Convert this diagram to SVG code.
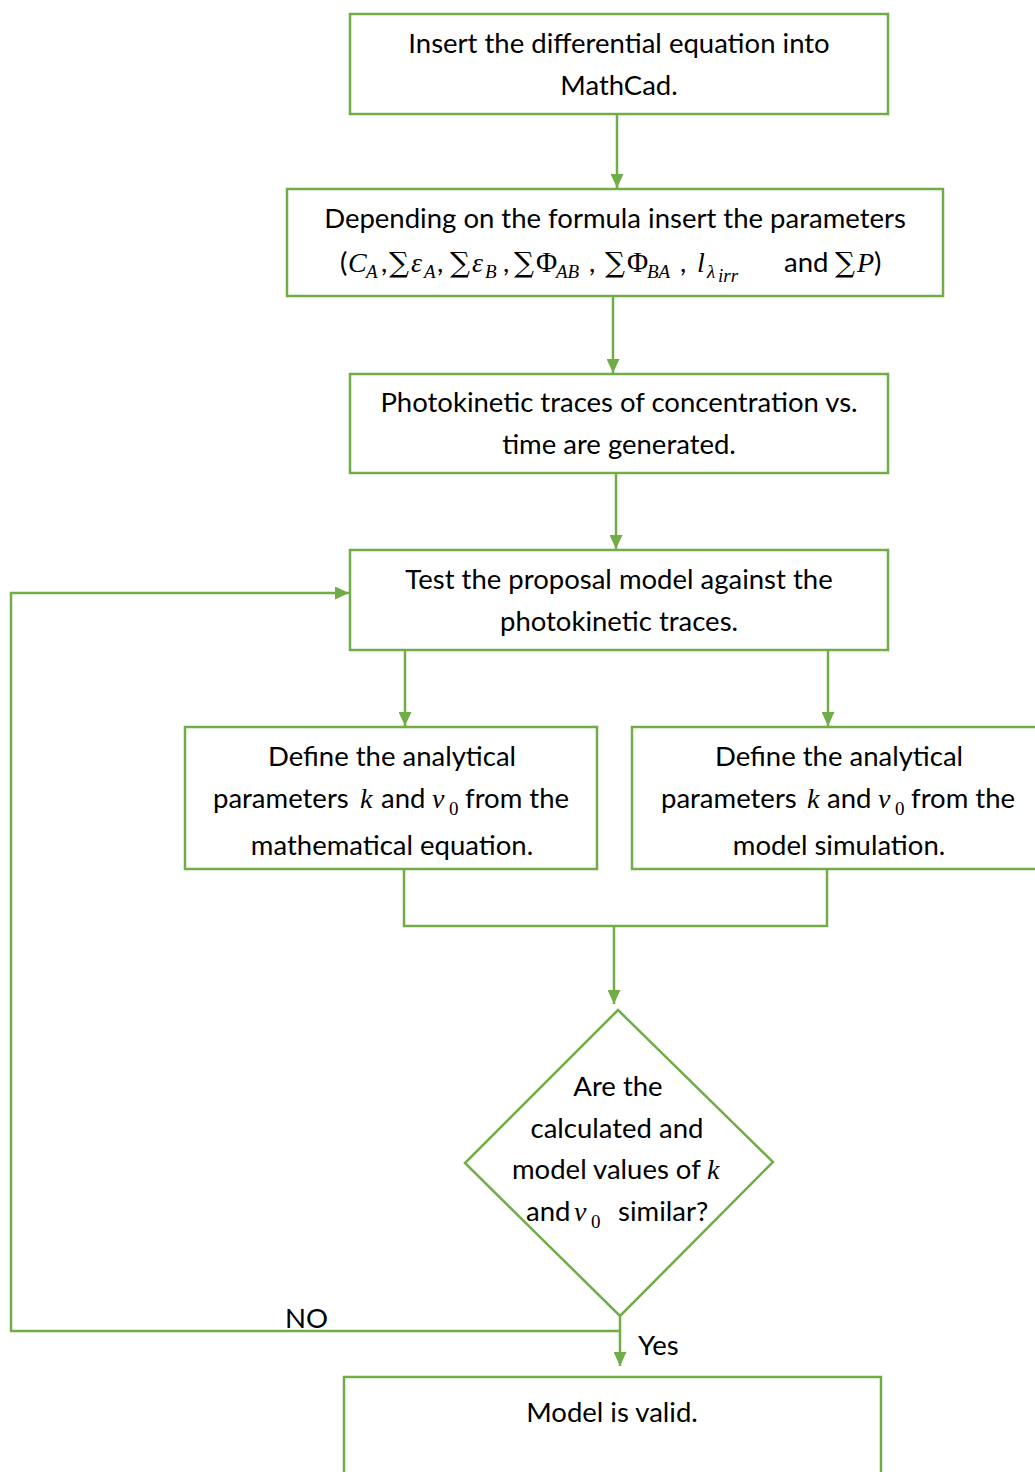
<svg xmlns="http://www.w3.org/2000/svg" width="1035" height="1472" viewBox="0 0 1035 1472">
<style>
.box{fill:#fff;stroke:#70AD47;stroke-width:2.5}
.ln{fill:none;stroke:#70AD47;stroke-width:2.5}
.t{font-family:Lato,"Open Sans","Liberation Sans",sans-serif;font-size:27.5px;fill:#000}
.c{text-anchor:middle}
.m{font-family:"Liberation Serif","DejaVu Serif",serif;font-style:italic;font-size:28px}
.mr{font-family:"Liberation Serif","DejaVu Serif",serif;font-style:normal;font-size:29px}
.sum{font-family:"DejaVu Serif","Liberation Serif",serif;font-style:normal;font-size:28px}
.s{font-family:"Liberation Serif","DejaVu Serif",serif;font-style:italic;font-size:19px}
.sr{font-family:"Liberation Serif","DejaVu Serif",serif;font-style:normal;font-size:19px}
</style>
<defs>
<marker id="ah" viewBox="0 0 10 10" refX="10" refY="5" markerWidth="14" markerHeight="13" markerUnits="userSpaceOnUse" orient="auto" preserveAspectRatio="none">
<path d="M0,0 L10,5 L0,10 z" fill="#70AD47"/>
</marker>
</defs>
<rect width="1035" height="1472" fill="#fff"/>
<g id="connectors">
<line class="ln" x1="617" y1="114" x2="617" y2="188" marker-end="url(#ah)"/>
<line class="ln" x1="613" y1="296" x2="613" y2="373" marker-end="url(#ah)"/>
<line class="ln" x1="616" y1="473" x2="616" y2="549" marker-end="url(#ah)"/>
<line class="ln" x1="405" y1="650" x2="405" y2="726" marker-end="url(#ah)"/>
<line class="ln" x1="828" y1="650" x2="828" y2="726" marker-end="url(#ah)"/>
<polyline class="ln" points="404,869 404,926 827,926 827,869"/>
<line class="ln" x1="614" y1="926" x2="614" y2="1004" marker-end="url(#ah)"/>
<line class="ln" x1="620" y1="1316" x2="620" y2="1366" marker-end="url(#ah)"/>
<polyline class="ln" points="620,1331 11,1331 11,593 349,593" marker-end="url(#ah)"/>
<text class="t" x="285" y="1328">NO</text>
<text class="t" x="638" y="1355">Yes</text>
</g>
<g id="n1">
<rect class="box" x="350" y="14" width="538" height="100"/>
<text class="t c" x="619" y="53">Insert the differential equation into</text>
<text class="t c" x="619" y="95">MathCad.</text>
</g>
<g id="n2">
<rect class="box" x="287" y="189" width="656" height="107"/>
<text class="t c" x="615" y="228">Depending on the formula insert the parameters</text>
<text class="t" y="272"><tspan x="340">(</tspan><tspan class="m" x="348">C</tspan><tspan class="s" x="366" dy="6">A</tspan><tspan x="381" dy="-6">,</tspan><tspan class="sum" x="389">∑</tspan><tspan class="m" x="411">ε</tspan><tspan class="s" x="424" dy="6">A</tspan><tspan x="437" dy="-6">,</tspan><tspan class="sum" x="450">∑</tspan><tspan class="m" x="472">ε</tspan><tspan class="s" x="485" dy="6">B</tspan><tspan x="503" dy="-6">,</tspan><tspan class="sum" x="514">∑</tspan><tspan class="mr" x="536">Φ</tspan><tspan class="s" x="556" dy="6">AB</tspan><tspan x="589" dy="-6">,</tspan><tspan class="sum" x="605">∑</tspan><tspan class="mr" x="627">Φ</tspan><tspan class="s" x="647" dy="6">BA</tspan><tspan x="680" dy="-6">,</tspan><tspan class="m" x="697">l</tspan><tspan class="s" x="707" dy="6">λ</tspan><tspan class="s" x="718" dy="4" font-size="16">irr</tspan><tspan x="784" dy="-10">and</tspan><tspan class="sum" x="835">∑</tspan><tspan class="m" x="857">P</tspan><tspan x="874">)</tspan></text>
</g>
<g id="n3">
<rect class="box" x="350" y="374" width="538" height="99"/>
<text class="t c" x="619" y="412">Photokinetic traces of concentration vs.</text>
<text class="t c" x="619" y="454">time are generated.</text>
</g>
<g id="n4">
<rect class="box" x="350" y="550" width="538" height="100"/>
<text class="t c" x="619" y="589">Test the proposal model against the</text>
<text class="t c" x="619" y="631">photokinetic traces.</text>
</g>
<g id="n5">
<rect class="box" x="185" y="727" width="412" height="142"/>
<text class="t c" x="392" y="766">Define the analytical</text>
<text class="t" y="808"><tspan x="213">parameters</tspan><tspan class="m" x="360">k</tspan><tspan x="381">and</tspan><tspan class="m" x="432">v</tspan><tspan class="sr" x="449" dy="7">0</tspan><tspan x="465" dy="-7">from the</tspan></text>
<text class="t c" x="392" y="855">mathematical equation.</text>
</g>
<g id="n6">
<rect class="box" x="632" y="727" width="410" height="142"/>
<text class="t c" x="839" y="766">Define the analytical</text>
<text class="t" y="808"><tspan x="661">parameters</tspan><tspan class="m" x="807">k</tspan><tspan x="827">and</tspan><tspan class="m" x="878">v</tspan><tspan class="sr" x="895" dy="7">0</tspan><tspan x="911" dy="-7">from the</tspan></text>
<text class="t c" x="839" y="855">model simulation.</text>
</g>
<g id="n7">
<polygon class="box" points="618,1010 773,1162 620,1316 465,1163"/>
<text class="t c" x="618" y="1096">Are the</text>
<text class="t c" x="617" y="1138">calculated and</text>
<text class="t" y="1179"><tspan x="512">model values of</tspan><tspan class="m" x="707">k</tspan></text>
<text class="t" y="1221"><tspan x="526">and</tspan><tspan class="m" x="574">v</tspan><tspan class="sr" x="591" dy="7">0</tspan><tspan x="618" dy="-7">similar?</tspan></text>
</g>
<g id="n8">
<rect class="box" x="344" y="1377" width="537" height="110"/>
<text class="t c" x="612" y="1422">Model is valid.</text>
</g>
</svg>
